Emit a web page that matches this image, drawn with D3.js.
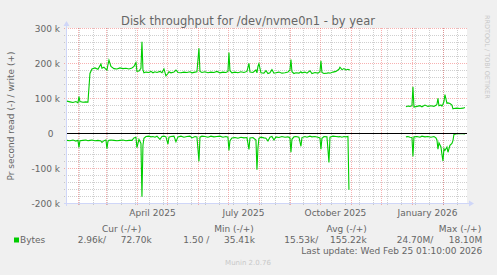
<!DOCTYPE html>
<html>
<head>
<meta charset="utf-8">
<script src="https://cdn.jsdelivr.net/npm/d3@7"></script>
<style>
  body { margin: 0; background: #f0f0f0; }
  svg { display: block; }
  text { font-family: "DejaVu Sans", sans-serif; fill: #666; }
</style>
</head>
<body>
<div id="viz"></div>
<script>
// daily samples (k = 1000 bytes/s), null = no data
const dates = [
  "2025-01-21","2025-01-24","2025-01-27","2025-01-30","2025-02-01","2025-02-02","2025-02-03","2025-02-06",
  "2025-02-09","2025-02-11","2025-02-13","2025-02-15","2025-02-18","2025-02-21","2025-02-24","2025-02-25",
  "2025-02-27","2025-03-01","2025-03-02","2025-03-03","2025-03-04","2025-03-06","2025-03-09","2025-03-12",
  "2025-03-15","2025-03-18","2025-03-21","2025-03-24","2025-03-27","2025-03-29","2025-03-31","2025-04-01",
  "2025-04-03","2025-04-05","2025-04-06","2025-04-07","2025-04-08","2025-04-10","2025-04-13","2025-04-15",
  "2025-04-17","2025-04-19","2025-04-21","2025-04-24","2025-04-26","2025-04-28","2025-04-30","2025-05-02",
  "2025-05-03","2025-05-05","2025-05-08","2025-05-10","2025-05-12","2025-05-15","2025-05-18","2025-05-21",
  "2025-05-24","2025-05-26","2025-05-29","2025-05-31","2025-06-02","2025-06-03","2025-06-05","2025-06-08",
  "2025-06-11","2025-06-14","2025-06-17","2025-06-20","2025-06-23","2025-06-26","2025-06-29","2025-07-01",
  "2025-07-02","2025-07-03","2025-07-05","2025-07-08","2025-07-11","2025-07-14","2025-07-17","2025-07-20",
  "2025-07-22","2025-07-23","2025-07-26","2025-07-29","2025-07-30","2025-07-31","2025-08-01","2025-08-03",
  "2025-08-06","2025-08-08","2025-08-10","2025-08-12","2025-08-14","2025-08-16","2025-08-18","2025-08-21",
  "2025-08-24","2025-08-27","2025-08-30","2025-09-01","2025-09-02","2025-09-03","2025-09-05","2025-09-07",
  "2025-09-10","2025-09-12","2025-09-13","2025-09-16","2025-09-18","2025-09-21","2025-09-23","2025-09-26",
  "2025-09-29","2025-10-01","2025-10-02","2025-10-03","2025-10-05","2025-10-08","2025-10-10","2025-10-11",
  "2025-10-14","2025-10-17","2025-10-20","2025-10-21","2025-10-23","2025-10-25","2025-10-27","2025-10-29",
  "2025-10-30","2025-10-31","2025-11-01","2025-12-26","2025-12-28","2025-12-30","2026-01-01","2026-01-02",
  "2026-01-03","2026-01-06","2026-01-09","2026-01-11","2026-01-14","2026-01-17","2026-01-20","2026-01-23",
  "2026-01-25","2026-01-26","2026-01-27","2026-01-28","2026-01-30","2026-01-31","2026-02-01","2026-02-02",
  "2026-02-03","2026-02-05","2026-02-06","2026-02-08","2026-02-10","2026-02-11","2026-02-12","2026-02-15",
  "2026-02-18","2026-02-21","2026-02-23"
];
const writeK = [
  91, 89, 87, 90, 86, 104, 90, 88,
  89, 88, 170, 183, 186, 182, 197, 185,
  188, 182, 180, 195, 208, 190, 184, 183,
  186, 184, 185, 183, 186, 190, 201, 176,
  177, 185, 261, 180, 172, 174, 173, 176,
  172, 175, 173, 176, 172, 183, 163, 170,
  175, 172, 174, 180, 173, 172, 174, 173,
  175, 172, 174, 175, 242, 176, 173, 175,
  172, 174, 173, 176, 172, 174, 173, 176,
  230, 178, 172, 174, 172, 175, 173, 176,
  199, 174, 173, 180, 172, 190, 198, 172,
  171, 178, 170, 172, 181, 171, 172, 174,
  171, 172, 174, 180, 210, 175, 170, 172,
  171, 175, 172, 174, 171, 178, 170, 173,
  171, 175, 206, 173, 170, 171, 172, 171,
  174, 176, 182, 188, 181, 184, 180, 182,
  181, 180, null, 75, 77, 76, 78, 132,
  74, 76, 78, 75, 80, 76, 78, 76,
  79, 82, 99, 78, 80, 77, 82, 90,
  110, 85, 86, 84, 80, 69, 70, 71,
  70, 71, 73
];
const readK = [
  -21, -22, -20, -23, -21, -41, -22, -21,
  -20, -22, -21, -20, -22, -21, -23, -27,
  -22, -20, -45, -24, -21, -20, -21, -22,
  -21, -20, -22, -21, -21, -14, -12, -42,
  -18, -30, -182, -35, -15, -10, -9, -11,
  -10, -12, -9, -18, -10, -9, -11, -32,
  -12, -10, -9, -25, -11, -9, -12, -10,
  -9, -14, -10, -11, -81, -12, -9, -10,
  -12, -9, -11, -10, -9, -12, -10, -12,
  -50, -22, -14, -13, -15, -12, -14, -13,
  -47, -14, -13, -20, -105, -42, -15, -12,
  -14, -15, -23, -12, -10, -20, -11, -13,
  -10, -12, -11, -14, -55, -18, -11, -10,
  -12, -38, -13, -10, -12, -9, -11, -10,
  -12, -14, -46, -15, -10, -11, -84, -12,
  -9, -10, -11, -10, -12, -10, -11, -10,
  -162, null, null, -11, -10, -12, -13, -67,
  -11, -10, -12, -9, -11, -10, -12, -10,
  -14, -20, -46, -28, -40, -61, -80, -45,
  -50, -40, -55, -35, -30, -22, -4, -2,
  -2, -2, -3
];
const yTicks = [-200, -100, 0, 100, 200, 300];
const labelMonths = ["2025-04-01", "2025-07-01", "2025-10-01", "2026-01-01"];
const legendHeads = ["Cur (-/+)", "Min (-/+)", "Avg (-/+)", "Max (-/+)"];
const legendRead = ["2.96k/", "1.50 /", "15.53k/", "24.70M/"];
const legendWrite = ["72.70k", "35.41k", "155.22k", "18.10M"];

const W = 497, H = 275;
const plotL = 67, plotR = 467, plotT = 28, plotB = 203;
const parse = d3.timeParse("%Y-%m-%d");
const start = new Date(2025, 0, 21, 1, 10), end = new Date(2026, 1, 25, 1, 10);

const svg = d3.select("#viz").append("svg").attr("width", W).attr("height", H);
svg.append("rect").attr("width", W).attr("height", H).attr("fill", "#f0f0f0");
svg.append("rect").attr("x", plotL).attr("y", plotT)
  .attr("width", plotR - plotL).attr("height", plotB - plotT).attr("fill", "#fff");

const x = d3.scaleTime().domain([start, end]).range([plotL, plotR]);
const y = d3.scaleLinear().domain([-200, 300]).range([plotB, plotT]);
const px = v => Math.round(v) + 0.5;

// minor grid
const minorY = d3.range(-200, 301, 20).filter(v => v % 100 !== 0);
const minorX = [];
for (let t = new Date(2025, 1, 2); t < end; t = d3.timeDay.offset(t, 14)) minorX.push(t);
const months = d3.timeMonth.range(d3.timeMonth.ceil(start), end);

const grid = svg.append("g").attr("stroke-dasharray", "1,1").attr("stroke-width", 1);
grid.selectAll(".gy").data(minorY).join("line")
  .attr("x1", plotL - 3).attr("x2", plotR + 1)
  .attr("y1", d => px(y(d))).attr("y2", d => px(y(d)))
  .attr("stroke", "rgba(128,128,128,0.38)");
grid.selectAll(".gx").data(minorX).join("line")
  .attr("x1", d => px(x(d))).attr("x2", d => px(x(d)))
  .attr("y1", plotT).attr("y2", plotB + 2)
  .attr("stroke", "rgba(128,128,128,0.38)");
grid.selectAll(".my").data(yTicks.filter(v => v !== 0)).join("line")
  .attr("x1", plotL - 3).attr("x2", plotR + 1)
  .attr("y1", d => px(y(d))).attr("y2", d => px(y(d)))
  .attr("stroke", "rgba(235,60,60,0.4)");
grid.selectAll(".mx").data(months).join("line")
  .attr("x1", d => px(x(d))).attr("x2", d => px(x(d)))
  .attr("y1", plotT).attr("y2", plotB + 3)
  .attr("stroke", "rgba(235,60,60,0.4)");

// axes lines with arrows
const axisColor = "#cfd6f8";
svg.append("line").attr("x1", plotL - 0.5).attr("x2", plotL - 0.5).attr("y1", plotB + 3).attr("y2", plotT - 4)
  .attr("stroke", axisColor);
svg.append("path").attr("d", `M${plotL - 3.5},${plotT - 2} L${plotL - 0.5},${plotT - 7} L${plotL + 2.5},${plotT - 2} Z`)
  .attr("fill", axisColor);
svg.append("line").attr("x1", plotL - 3).attr("x2", plotR + 4).attr("y1", plotB + 0.5).attr("y2", plotB + 0.5)
  .attr("stroke", axisColor);
svg.append("path").attr("d", `M${plotR + 2},${plotB - 2.5} L${plotR + 7},${plotB + 0.5} L${plotR + 2},${plotB + 3.5} Z`)
  .attr("fill", axisColor);

// data lines
const rows = dates.map((d, i) => ({ date: parse(d), w: writeK[i], r: readK[i] }));
const lineFor = key => d3.line()
  .defined(d => d[key] != null)
  .x(d => x(d.date))
  .y(d => y(d[key]));
svg.append("path").datum(rows).attr("d", lineFor("w"))
  .attr("fill", "none").attr("stroke", "#00cc00").attr("stroke-width", 1.1);
svg.append("path").datum(rows).attr("d", lineFor("r"))
  .attr("fill", "none").attr("stroke", "#00cc00").attr("stroke-width", 1.1);

// zero rule
svg.append("line").attr("x1", plotL).attr("x2", plotR)
  .attr("y1", px(y(0))).attr("y2", px(y(0))).attr("stroke", "#000");

// y axis labels
const yAxis = svg.append("g").attr("transform", `translate(${plotL},0)`)
  .call(d3.axisLeft(y).tickValues(yTicks).tickSize(0).tickPadding(7)
    .tickFormat(d => d === 0 ? "0" : d + " k"));
yAxis.select(".domain").remove();
yAxis.attr("font-family", null).attr("font-size", null);
yAxis.selectAll("text").attr("font-size", 9).attr("dy", "0.36em")
  .attr("dx", d => d === 0 ? -6.5 : 0);

// x axis labels, centred half a month after the quarter start
const xAxis = svg.append("g").attr("transform", `translate(0,${plotB})`)
  .call(d3.axisBottom(x)
    .tickValues(labelMonths.map(d => d3.timeDay.offset(parse(d), 15)))
    .tickSize(0).tickPadding(7).tickFormat(d3.timeFormat("%B %Y")));
xAxis.select(".domain").remove();
xAxis.attr("font-family", null).attr("font-size", null);
xAxis.selectAll("text").attr("font-size", 9);

// title and axis title
svg.append("text").attr("x", 248).attr("y", 25).attr("text-anchor", "middle")
  .attr("font-size", 11.5).text("Disk throughput for /dev/nvme0n1 - by year");
svg.append("text").attr("transform", "translate(14,116) rotate(-90)").attr("text-anchor", "middle")
  .attr("font-size", 9).text("Pr second read (-) / write (+)");
svg.append("text").attr("transform", "translate(485,15) rotate(90)")
  .attr("font-size", 6.5).style("fill", "#c8c8c8").text("RRDTOOL / TOBI OETIKER");

// legend
const headX = [121.7, 234, 346.7, 460];
svg.selectAll(".lh").data(legendHeads).join("text")
  .attr("x", (d, i) => headX[i]).attr("y", 232).attr("text-anchor", "middle")
  .attr("font-size", 9).text(d => d);
svg.append("rect").attr("x", 14).attr("y", 237.5).attr("width", 5).attr("height", 5).attr("fill", "#00cc00");
svg.append("text").attr("x", 20).attr("y", 242.5).attr("font-size", 9).text("Bytes");
const readEnd = [106, 209.3, 318.3, 433.3];
const writeEnd = [151.7, 255, 366.7, 482.3];
svg.selectAll(".lr").data(legendRead).join("text")
  .attr("x", (d, i) => readEnd[i]).attr("y", 242.5).attr("text-anchor", "end")
  .attr("font-size", 9).text(d => d);
svg.selectAll(".lw").data(legendWrite).join("text")
  .attr("x", (d, i) => writeEnd[i]).attr("y", 242.5).attr("text-anchor", "end")
  .attr("font-size", 9).text(d => d);
svg.append("text").attr("x", 482.3).attr("y", 253.5).attr("text-anchor", "end")
  .attr("font-size", 9).text("Last update: Wed Feb 25 01:10:00 2026");
svg.append("text").attr("x", 248).attr("y", 265).attr("text-anchor", "middle")
  .attr("font-size", 7).style("fill", "#c8c8c8").text("Munin 2.0.76");
</script>
</body>
</html>
